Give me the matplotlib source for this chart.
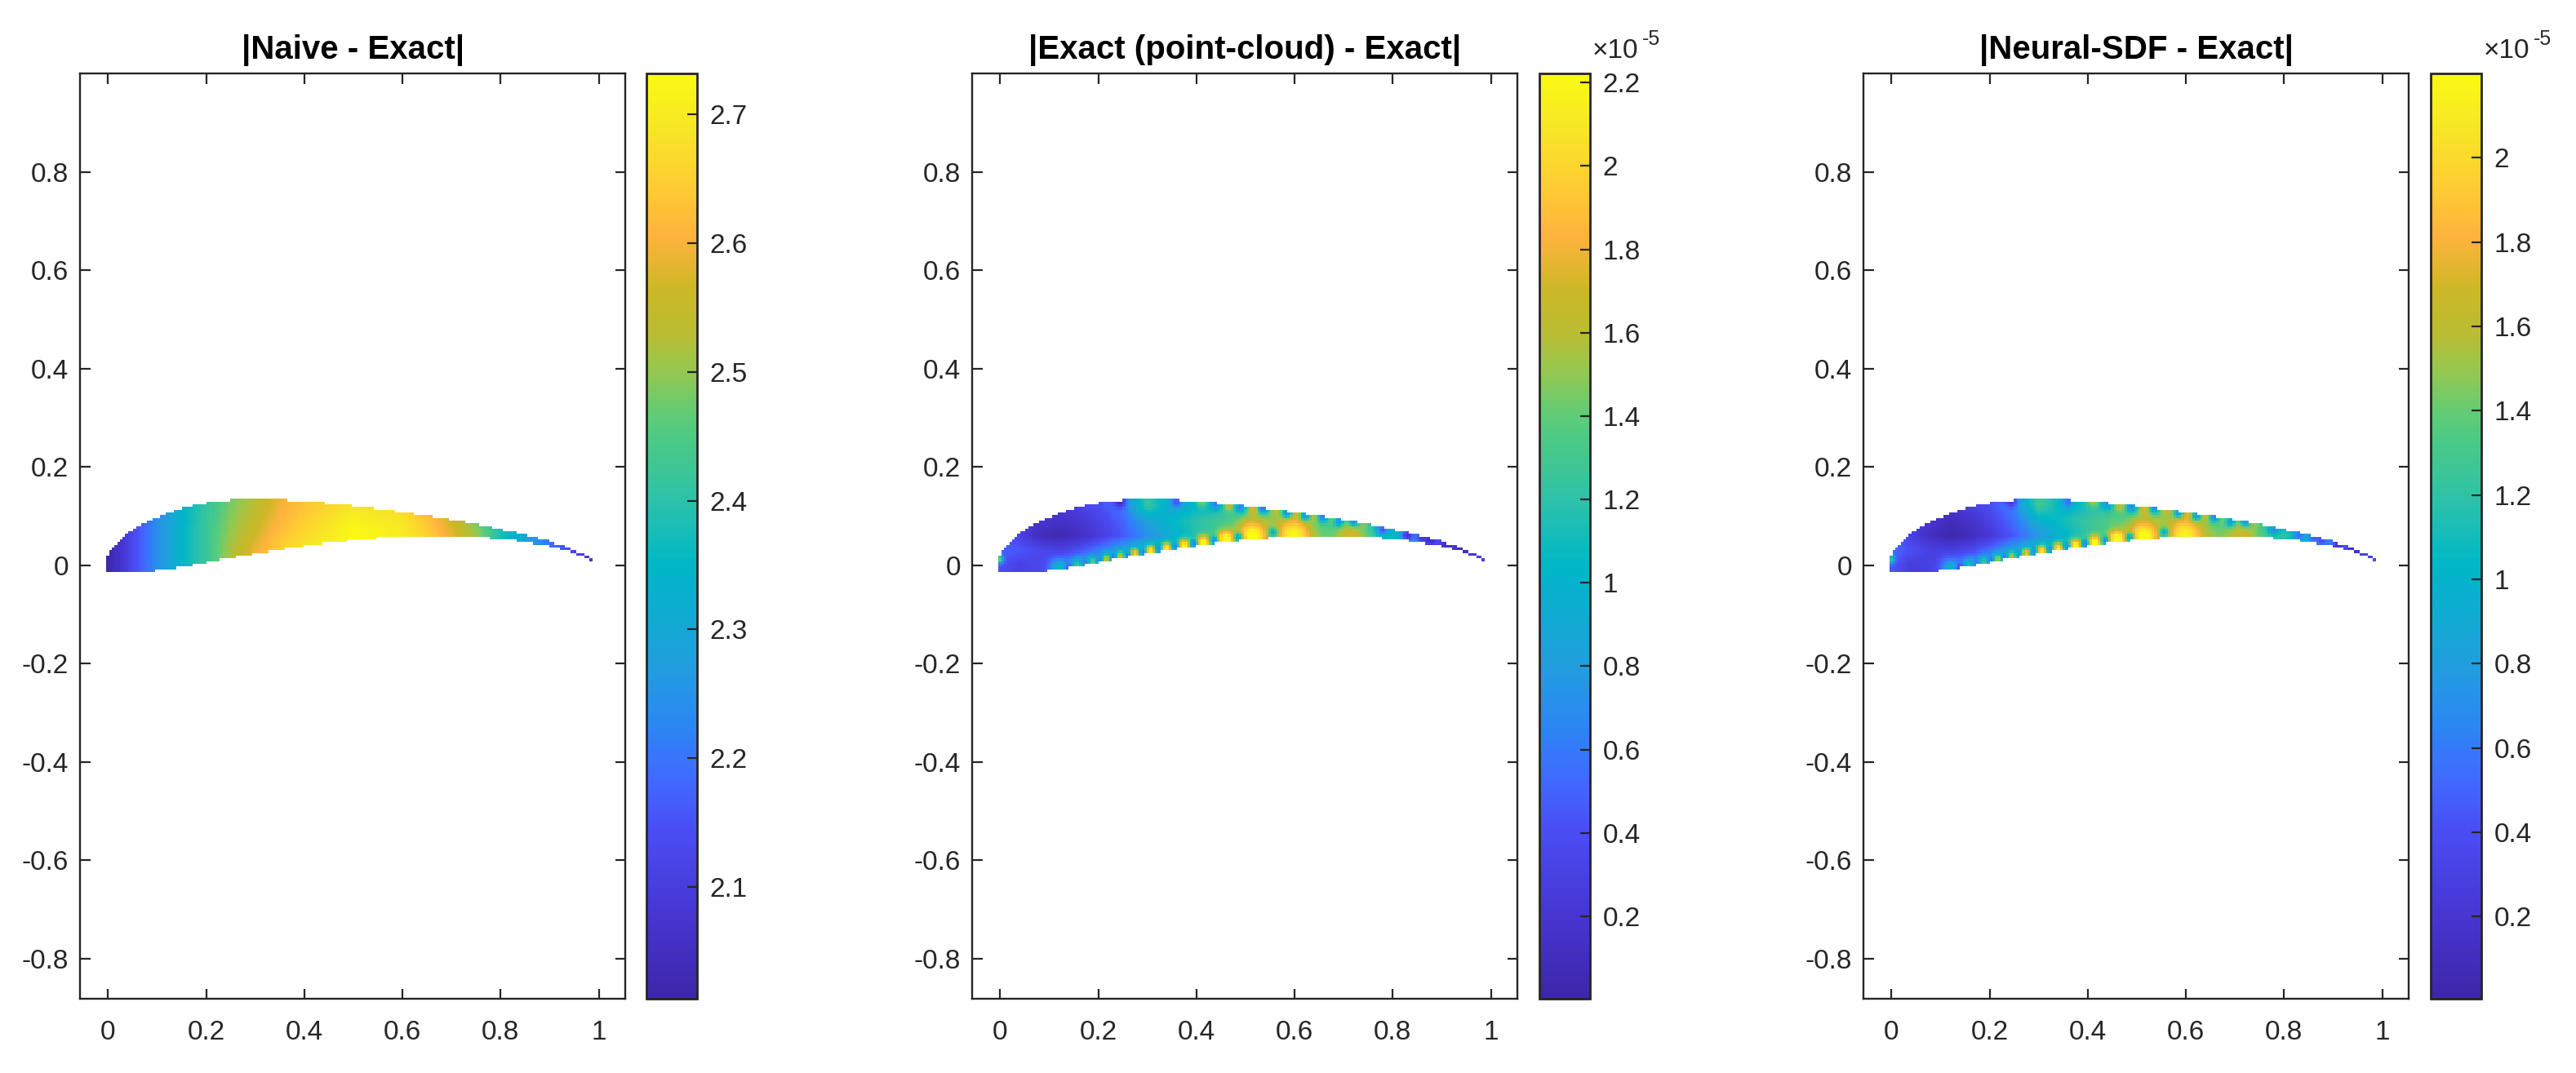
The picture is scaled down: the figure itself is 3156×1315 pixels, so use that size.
#!/usr/bin/env python3

"""Error maps on an airfoil for three distance functions, with a parula colour bar each."""

import numpy as np
import matplotlib
matplotlib.use("Agg")
import matplotlib.pyplot as plt
from matplotlib.colors import LinearSegmentedColormap

plt.rcParams["font.family"] = ["Liberation Sans", "DejaVu Sans"]

titles = ["|Naive - Exact|", "|Exact (point-cloud) - Exact|", "|Neural-SDF - Exact|"]
x_ticks = [0, 0.2, 0.4, 0.6, 0.8, 1]
y_ticks = [-0.8, -0.6, -0.4, -0.2, 0, 0.2, 0.4, 0.6, 0.8]

cbar_ticks = [
    [2.1, 2.2, 2.3, 2.4, 2.5, 2.6, 2.7],
    [0.2, 0.4, 0.6, 0.8, 1, 1.2, 1.4, 1.6, 1.8, 2, 2.2],
    [0.2, 0.4, 0.6, 0.8, 1, 1.2, 1.4, 1.6, 1.8, 2],
]
cbar_limits = [(2.013, 2.732), (0.002, 2.222), (0.005, 2.2)]

# colours sampled off the colour bar, bottom to top
parula_pos = [0, .076, .18, .24, .296, .36, .47, .54, .606, .63, .683, .72, .767, .825, .88, .94, 1]
parula = [
    (0.2422, 0.1504, 0.6603), (0.27, 0.20, 0.80), (0.29, 0.30, 0.96), (0.25, 0.42, 1.0),
    (0.17, 0.53, 0.95), (0.13, 0.62, 0.87), (0.0, 0.72, 0.78), (0.18, 0.76, 0.66),
    (0.30, 0.79, 0.52), (0.37, 0.80, 0.47), (0.60, 0.78, 0.30), (0.73, 0.74, 0.20),
    (0.80, 0.72, 0.15), (1.0, 0.70, 0.24), (1.0, 0.80, 0.20), (0.97, 0.90, 0.15),
    (0.98, 0.98, 0.08),
]

# airfoil outline, staircase runs: y holds up to the x in the *_end list
upper_end = [.0033, .0089, .0144, .02, .0255, .031, .0365, .042, .053, .0587, .0698,
             .0808, .0919, .1085, .1196, .136, .1528, .175, .2026, .247, .367, .44,
             .496, .541, .584, .624, .662, .696, .73, .757, .782, .807, .835, .856,
             .878, .896, .912, .929, .945, .956, .968, .979, .985]
upper_y = [.020, .031, .037, .0427, .048, .0532, .0592, .0648, .0698, .0759, .0814,
           .0864, .0925, .098, .1035, .109, .1146, .12, .1257, .1312, .1368, .1312,
           .1257, .12, .1146, .109, .1035, .098, .0925, .087, .081, .076, .07, .065,
           .059, .054, .048, .043, .037, .032, .026, .021, .015]
lower_end = [.0966, .141, .175, .2026, .23, .258, .291, .3245, .358, .397, .435, .485,
             .547, .78, .83, .868, .896, .918, .94, .956, .968, .979, .985]
lower_y = [-.0138, -.0083, -.0028, .0028, .0083, .0138, .0194, .025, .03, .036, .0415,
           .047, .0526, .058, .0526, .047, .0415, .036, .03, .025, .0194, .0138, .0083]

# first panel, values read at three heights
naive_x = [0, .03, .06, .1, .16, .2, .25, .3, .35, .4, .5, .6, .65, .7, .75, .8, .85, .9, .95, 1]
naive_y = [.02, .07, .13]
naive_low = [2.02, 2.08, 2.15, 2.24, 2.36, 2.42, 2.52, 2.60, 2.66, 2.70, 2.72, 2.70, 2.67, 2.62, 2.52, 2.40, 2.29, 2.2, 2.12, 2.07]
naive_mid = [2.02, 2.08, 2.15, 2.24, 2.36, 2.42, 2.50, 2.56, 2.62, 2.66, 2.73, 2.70, 2.65, 2.58, 2.50, 2.38, 2.29, 2.2, 2.12, 2.07]
naive_high = [2.02, 2.08, 2.15, 2.24, 2.35, 2.41, 2.48, 2.53, 2.59, 2.63, 2.68, 2.66, 2.60, 2.54, 2.44, 2.36, 2.29, 2.2, 2.12, 2.07]

# second and third panel, smooth part of the field
field_x = [0, .04, .08, .12, .16, .2, .25, .3, .35, .4, .45, .5, .55, .6, .65, .7, .75, .8, .85, .9, .95, 1]
field_y = [0, .03, .06, .09, .12]
cloud_rows = [
    [.40, .30, .35, .50, .60, .70, .85, 1.0, 1.1, 1.2, 1.3, 1.4, 1.4, 1.4, 1.4, 1.3, 1.2, 1.1, .7, .3, .2, .3],
    [.50, .45, .35, .30, .40, .60, .85, 1.1, 1.2, 1.3, 1.3, 1.4, 1.4, 1.4, 1.4, 1.3, 1.2, 1.1, .7, .3, .2, .3],
    [.50, .30, .10, .05, .12, .25, .45, .70, .95, 1.15, 1.3, 1.45, 1.5, 1.45, 1.4, 1.35, 1.3, 1.1, .7, .35, .2, .3],
    [.50, .30, .20, .15, .20, .30, .50, .85, 1.05, 1.2, 1.3, 1.4, 1.45, 1.4, 1.3, 1.2, 1.1, .9, .7, .35, .2, .3],
    [.50, .30, .20, .20, .30, .40, .60, 1.25, .90, 1.0, 1.1, 1.2, 1.25, 1.2, 1.1, 1.0, .9, .8, .7, .4, .2, .3],
]
neural_rows = [
    [.45, .25, .30, .45, .55, .70, .85, 1.0, 1.1, 1.2, 1.3, 1.4, 1.45, 1.4, 1.4, 1.35, 1.3, 1.2, .95, .6, .3, .4],
    [.55, .40, .30, .28, .35, .55, .85, 1.1, 1.2, 1.3, 1.35, 1.45, 1.45, 1.4, 1.4, 1.35, 1.3, 1.2, .95, .6, .3, .4],
    [.55, .30, .12, .04, .10, .22, .45, .75, 1.0, 1.2, 1.35, 1.45, 1.5, 1.45, 1.45, 1.4, 1.35, 1.2, .95, .6, .3, .4],
    [.55, .30, .18, .10, .15, .30, .55, .95, 1.1, 1.25, 1.35, 1.4, 1.45, 1.4, 1.35, 1.25, 1.15, 1.0, .9, .6, .3, .4],
    [.55, .30, .20, .20, .30, .40, .65, 1.3, 1.0, 1.1, 1.2, 1.25, 1.3, 1.25, 1.15, 1.05, .95, .85, .75, .55, .3, .4],
]

# bright spots and dark notches along the surface (position, strength, radius)
spot_x = [.12, .159, .189, .217, .246, .275, .307, .339, .375, .414, .459, .513, .599, .715, -.002,
          .411, .466, .516, .563, .605, .641, .68, .71, .743,
          .14, .174, .203, .231, .26, .29, .323, .357, .395, .436, .486, .556,
          .245, .36, .44, .49, .535, .585, .62, .657, .69, .72, .779, .83, .859, .876, .91, .94]
spot_y = [-.004, .0, .006, .012, .017, .023, .029, .034, .04, .046, .053, .06, .063, .063, .012,
          .13, .122, .116, .113, .106, .101, .096, .09, .084,
          -.004, .003, .009, .015, .02, .026, .032, .037, .043, .05, .056, .066,
          .128, .128, .125, .118, .115, .106, .10, .098, .09, .09, .071, .06, .055, .05, .04, .03]
spot_r = [.012, .011, .009, .008, .008, .008, .008, .008, .009, .010, .012, .020, .024, .020, .006,
          .009, .009, .010, .008, .008, .008, .008, .007, .007,
          .006, .006, .006, .006, .006, .006, .006, .006, .006, .006, .007, .008,
          .008, .008, .008, .008, .007, .007, .007, .007, .007, .007, .008, .008, .007, .007, .007, .007]
cloud_amp = [.55, .7, .8, 1.0, 1.0, 1.1, 1.1, 1.1, 1.1, 1.05, 1.0, .85, .75, .4, 1.0,
             .45, .5, .5, .35, .35, .3, .3, .2, .2,
             -.4, -.5, -.5, -.6, -.7, -.7, -.7, -.7, -.8, -.9, -.9, -.7,
             -.5, -.5, -.5, -.6, -.8, -.8, -.7, -.7, -.7, -.7, -.7, -.7, -.4, -.4, -.2, -.2]
neural_amp = [.5, .6, .7, .9, .9, 1.0, 1.05, 1.05, 1.05, 1.0, .95, .8, .7, .3, .7,
              .45, .45, .45, .35, .35, .3, .3, .2, .2,
              -.4, -.4, -.5, -.5, -.6, -.6, -.7, -.7, -.8, -.9, -.9, -.7,
              -.4, -.5, -.5, -.6, -.7, -.7, -.7, -.7, -.7, -.7, -.5, -.5, -.4, -.4, -.4, -.3]

CELL = 0.0055
X0 = -0.0033


def inside_mask(X, Y):
    up = np.array(upper_y)[np.minimum(np.searchsorted(upper_end, X), len(upper_y) - 1)]
    low = np.array(lower_y)[np.minimum(np.searchsorted(lower_end, X), len(lower_y) - 1)]
    return (Y > low) & (Y < up) & (X < upper_end[-1])


def table_field(X, Y, xs, ys, rows):
    stack = np.array([np.interp(X, xs, row) for row in rows])
    pos = np.interp(Y, ys, np.arange(len(ys)))
    i = np.minimum(pos.astype(int), len(ys) - 2)
    f = pos - i
    jj, kk = np.indices(X.shape)
    return stack[i, jj, kk] * (1 - f) + stack[i + 1, jj, kk] * f


def add_spots(Z, X, Y, amps):
    for sx, sy, r, a in zip(spot_x, spot_y, spot_r, amps):
        Z = Z + a * np.exp(-((X - sx) ** 2 + (Y - sy) ** 2) / (2 * r ** 2))
    return Z


def px_axes(fig, left, top, right, bottom):
    W, H = 3156.0, 1315.0
    return fig.add_axes([left / W, 1 - bottom / H, (right - left) / W, (bottom - top) / H])


edges_x = X0 + CELL * np.arange(183)
edges_y = -0.0138 + CELL * np.arange(29)
X, Y = np.meshgrid((edges_x[:-1] + edges_x[1:]) / 2, (edges_y[:-1] + edges_y[1:]) / 2)
mask = ~inside_mask(X, Y)

naive = table_field(X, Y, naive_x, naive_y, [naive_low, naive_mid, naive_high])
cloud = add_spots(table_field(X, Y, field_x, field_y, cloud_rows), X, Y, cloud_amp)
neural = add_spots(table_field(X, Y, field_x, field_y, neural_rows), X, Y, neural_amp)
fields = [naive, cloud, neural]

cmap = LinearSegmentedColormap.from_list("parula", list(zip(parula_pos, parula)), N=256)
dark = "#262626"

axes_left = [98, 1191, 2283]
cbar_left = [792, 1886, 2978]

fig = plt.figure(figsize=(31.56, 13.15), dpi=100)

for n in range(3):
    ax = px_axes(fig, axes_left[n], 90, axes_left[n] + 668, 1224)
    lo, hi = cbar_limits[n]
    Z = np.ma.array(np.clip(fields[n], lo, hi), mask=mask)
    mesh = ax.pcolormesh(edges_x, edges_y, Z, cmap=cmap, vmin=lo, vmax=hi, shading="flat")
    ax.set_xlim(-0.057, 1.054)
    ax.set_ylim(-0.882, 1.0)
    ax.set_xticks(x_ticks)
    ax.set_xticklabels(["%g" % t for t in x_ticks])
    ax.set_yticks(y_ticks)
    ax.set_yticklabels(["%g" % t for t in y_ticks])
    ax.tick_params(direction="in", top=True, right=True, length=9, width=1.6,
                   labelsize=24, colors=dark)
    ax.tick_params(axis="x", pad=19)
    ax.tick_params(axis="y", pad=10)
    for s in ax.spines.values():
        s.set_linewidth(1.7)
        s.set_color(dark)
    ax.set_title(titles[n], fontsize=29, fontweight="bold", color="black", pad=13)

    cax = px_axes(fig, cbar_left[n], 90, cbar_left[n] + 62, 1224)
    cb = fig.colorbar(mesh, cax=cax)
    cb.set_ticks(cbar_ticks[n])
    cb.set_ticklabels(["%g" % t for t in cbar_ticks[n]])
    cax.tick_params(direction="in", right=True, length=9, width=1.6, labelsize=24,
                    colors=dark, pad=11)
    cb.outline.set_linewidth(2)
    cb.outline.set_edgecolor(dark)
    if n > 0:
        x_txt = (cbar_left[n] + 65) / 3156.0
        fig.text(x_txt, 1 - 71 / 1315.0, "\u00d710", fontsize=24, color=dark, ha="left", va="baseline")
        fig.text(x_txt + 61 / 3156.0, 1 - 55 / 1315.0, "-5", fontsize=18, color=dark, ha="left", va="baseline")

fig.savefig("out.png", dpi=100)
